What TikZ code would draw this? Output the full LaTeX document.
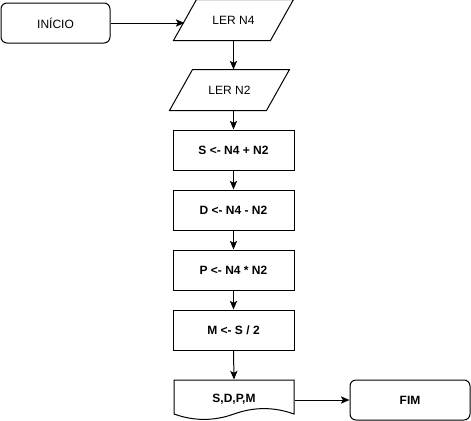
\documentclass[tikz,border=0pt]{standalone}
\usepackage{fontspec}
\setmainfont{Liberation Sans}
\usetikzlibrary{arrows.meta}
\begin{document}
\begin{tikzpicture}[x=0.75pt,y=-0.75pt,line width=0.75pt,font=\fontsize{9}{11}\selectfont,
        seta/.style={-{Stealth[length=6.5pt,width=5.5pt,inset=1.5pt]}},
        terminal/.style={draw,rounded corners=4.5pt,minimum height=30pt,inner sep=0pt},
        leitura/.style={minimum width=89.25pt,minimum height=30pt,inner sep=0pt},
        passo/.style={draw,minimum width=90.75pt,minimum height=30pt,inner sep=0pt,font=\fontsize{9}{11}\selectfont\bfseries}]
        \useasboundingbox (0,0) rectangle (471,421);

        \node[terminal,minimum width=81.75pt] (inicio) at (55.5,23){INÍCIO};
        \node[leitura] (n4) at (233.5,20){LER N4};
        \node[leitura] (n2) at (229.5,90){LER N2};
        \foreach \n in {n4,n2}
            \draw ([xshift=17.25pt]\n.north west) -- (\n.north east)
                -- ([xshift=-17.25pt]\n.south east) -- (\n.south west) -- cycle;

        \node[passo] (soma) at (233.5,150){S <- N4 + N2};
        \node[passo] (dif) at (233.5,210){D <- N4 - N2};
        \node[passo] (prod) at (233.5,270){P <- N4 * N2};
        \node[passo] (media) at (233.5,330){M <- S / 2};

        % saida (documento)
        \draw (174,380) -- (294,380) -- (294,414)
            .. controls (274,406.8) and (254,406.8) .. (234,414)
            .. controls (214,421.2) and (194,421.2) .. (174,414) -- cycle;
        \node[minimum width=90pt,minimum height=30pt,inner sep=0pt,font=\fontsize{9}{11}\selectfont\bfseries] (saida) at (234,400){\raisebox{3pt}{S,D,P,M}};
        \node[terminal,minimum width=90pt,font=\fontsize{9}{11}\selectfont\bfseries] (fim) at (410,400){FIM};

        \draw[seta] (inicio.east) -- ([xshift=8.25pt]inicio.east -| n4.west);
        \draw[seta] (n4.south) -- (n4.south |- n2.north);
        \draw[seta] (soma.north |- n2.south) -- (soma.north);
        \draw[seta] (soma) -- (dif);
        \draw[seta] (dif) -- (prod);
        \draw[seta] (prod) -- (media);
        \draw[seta] (media.south) -- (saida.north);
        \draw[seta] (saida.east) -- (fim.west);
    \end{tikzpicture}
\end{document}
